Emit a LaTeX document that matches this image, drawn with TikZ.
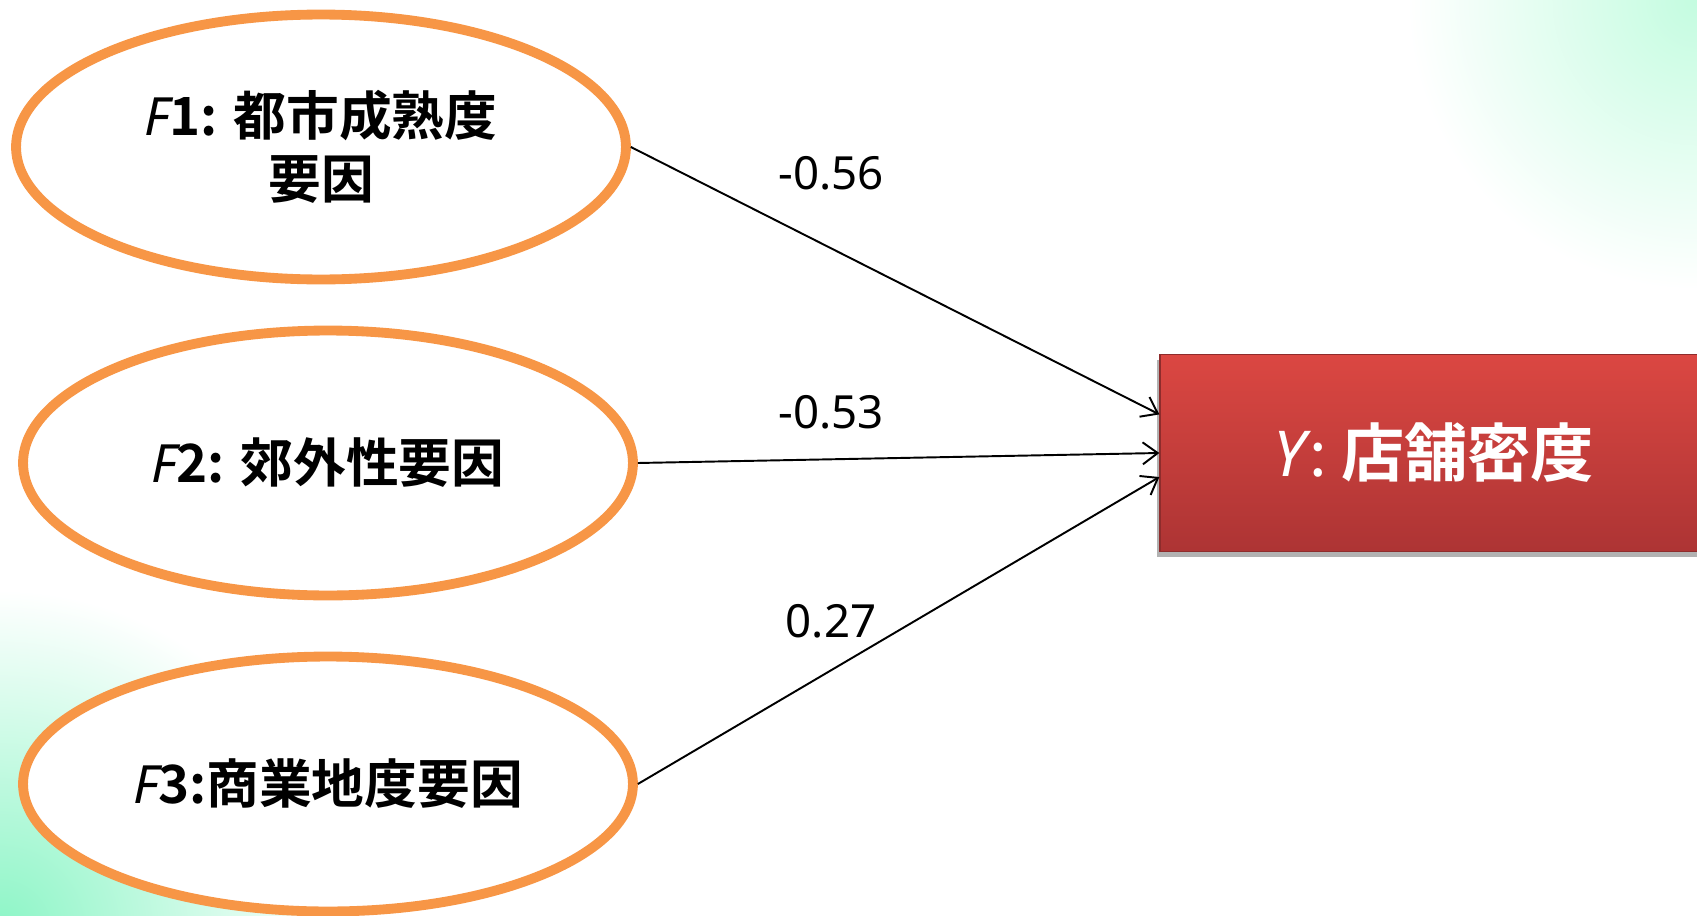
\documentclass[tikz,border=0pt]{standalone}
\usepackage{fontspec}
\setmainfont{Noto Sans CJK JP}[BoldFont={Noto Sans CJK JP Bold}]
\newfontfamily\latinfont{Noto Sans}
\usetikzlibrary{arrows.meta,positioning,shapes.geometric,shadows}
\definecolor{ovaledge}{HTML}{F79646}
\definecolor{boxtop}{HTML}{DB4742}
\definecolor{boxbottom}{HTML}{AD3434}
\definecolor{boxedge}{HTML}{8E2C2C}
\definecolor{mint}{HTML}{8CF5C6}
\definecolor{mintpale}{HTML}{C4FCE0}
\tikzset{
oval/.style={ellipse,draw=ovaledge,fill=white,line width=5.6pt,minimum width=12.2cm,minimum height=5.3cm,align=center,inner sep=0pt,font=\fontsize{30}{36}\selectfont\bfseries},
outcome/.style={rectangle,draw=boxedge,line width=.8pt,top color=boxtop,bottom color=boxbottom,minimum width=10.96cm,minimum height=3.94cm,text=white,font=\fontsize{36}{40}\selectfont\bfseries,drop shadow={shadow xshift=-1.5pt,shadow yshift=-3pt,opacity=.3,fill=black}},
effect/.style={-{Straight Barb[length=3mm,width=4.4mm]},line width=1.1pt,draw=black},
coef/.style={font=\latinfont\fontsize{26}{30}\selectfont}}
\begin{document}
\begin{tikzpicture}[x=.02cm,y=-.02cm]
\useasboundingbox (0,0) rectangle (1697,916);
\clip (0,0) rectangle (1697,916);
% corner tints
\shade[inner color=mint,outer color=white] (0,930) circle [radius=340];
\shade[inner color=mintpale,outer color=white] (1697,0) circle [radius=290];
% factors
\node[oval] (f1) at (321,147) {{\latinfont\itshape F}1: 都市成熟度\\要因};
\node[oval] (f2) at (328,463) {{\latinfont\itshape F}2: 郊外性要因};
\node[oval,minimum height=5.1cm] (f3) at (328,784) {{\latinfont\itshape F}3:商業地度要因};
% outcome
\node[outcome] (dens) at (1434,453) {{\latinfont\itshape\mdseries Y}\kern.05em{\mdseries:} 店舗密度};
\draw[effect] (f1.east)--(dens.172);
\draw[effect] (f2.east)--(dens.west);
\draw[effect] (f3.east)--(dens.185);
\node[coef] (c1) at (831,173) {-0.56};
\node[coef] (c2) at (831,412) {-0.53};
\node[coef] (c3) at (831,621) {0.27};
\end{tikzpicture}
\end{document}
